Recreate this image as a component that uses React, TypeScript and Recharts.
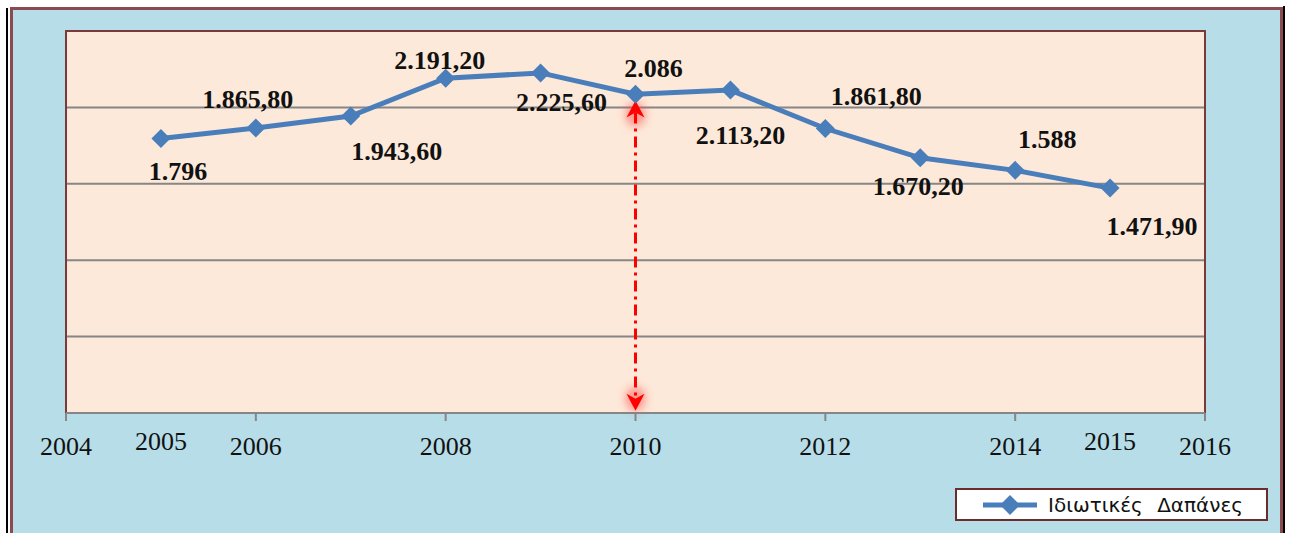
import React from "react";
import { LineChart, Line, XAxis, YAxis, CartesianGrid, ReferenceLine, ReferenceArea } from "recharts";

const years = [2005, 2006, 2007, 2008, 2009, 2010, 2011, 2012, 2013, 2014, 2015];
const values = [1796, 1865.8, 1943.6, 2191.2, 2225.6, 2086, 2113.2, 1861.8, 1670.2, 1588, 1471.9];
const valueLabels = ["1.796", "1.865,80", "1.943,60", "2.191,20", "2.225,60", "2.086", "2.113,20", "1.861,80", "1.670,20", "1.588", "1.471,90"];
const xTicks = [2004, 2005, 2006, 2008, 2010, 2012, 2014, 2015, 2016];
const yTicks = [0, 500, 1000, 1500, 2000, 2500];
const seriesName = "Ιδιωτικές Δαπάνες";
const arrowYear = 2010;
const arrowFrom = 2045;
const arrowTo = 15;

// label placement (style): offset of label centre from its point
const labelOffsets: [number, number][] = [
  [17, 33], [-8, -28], [46, 35], [-6, -18], [21, 30], [18, -26],
  [10, 45], [51, -32], [-2, 29], [32, -31], [42, 38],
];

const data = years.map((y, i) => ({ year: y, value: values[i], label: valueLabels[i] }));

const LINE = "#4A7EBB";
const GRID = "#868686";
const PEACH = "#FDE9D9";
const BLUE = "#B7DDE8";
const FRAME = "#8B4A50";

const Diamond = (props: any) => {
  const { cx, cy } = props;
  if (cx == null || cy == null) return null;
  const s = 9.5;
  return <polygon points={`${cx},${cy - s} ${cx + s},${cy} ${cx},${cy + s} ${cx - s},${cy}`} fill={LINE} />;
};

const ValueLabel = (props: any) => {
  const { x, y, index } = props;
  const [dx, dy] = labelOffsets[index] || [0, 0];
  return (
    <text
      x={x + dx}
      y={y + dy}
      textAnchor="middle"
      dominantBaseline="central"
      fontFamily="'Liberation Serif', 'Times New Roman', serif"
      fontWeight="bold"
      fontSize={26}
      fill="#111"
    >
      {valueLabels[index]}
    </text>
  );
};

const YearTick = (props: any) => {
  const { x, y, payload } = props;
  const v = payload.value;
  const odd = v % 2 === 1;
  return (
    <g>
      {!odd && <line x1={x} y1={y - 8} x2={x} y2={y} stroke={GRID} strokeWidth={2} />}
      <text
        x={x}
        y={y + (odd ? 20 : 25)}
        textAnchor="middle"
        dominantBaseline="central"
        fontFamily="'Liberation Serif', 'Times New Roman', serif"
        fontSize={26}
        fill="#111"
      >
        {v}
      </text>
    </g>
  );
};

const ArrowShape = (props: any) => {
  const { x1, y1, x2, y2 } = props;
  if (x1 == null) return null;
  const x = x1;
  const top = Math.min(y1, y2);
  const bot = Math.max(y1, y2);
  const h = 17;
  const w = 9;
  return (
    <g>
      <defs>
        <filter id="glow" x="-100%" y="-100%" width="300%" height="300%">
          <feGaussianBlur stdDeviation="4" />
        </filter>
      </defs>
      <ellipse cx={x} cy={top + 14} rx={10} ry={12} fill="#ff4040" opacity={0.5} filter="url(#glow)" />
      <ellipse cx={x} cy={bot - 12} rx={10} ry={12} fill="#ff4040" opacity={0.5} filter="url(#glow)" />
      <line x1={x} y1={top + 12} x2={x} y2={bot - 12} stroke="#FF0000" strokeWidth={3} strokeDasharray="11 5 3 5" />
      <polygon points={`${x},${top} ${x + w},${top + h} ${x},${top + h - 5} ${x - w},${top + h}`} fill="#FF0000" />
      <polygon points={`${x},${bot} ${x + w},${bot - h} ${x},${bot - h + 5} ${x - w},${bot - h}`} fill="#FF0000" />
    </g>
  );
};

export default function App() {
  return (
    <div style={{ position: "absolute", left: 0, top: 0, width: 1289, height: 533, background: "#fff", overflow: "hidden" }}>
      <div style={{ position: "absolute", left: 6, top: 8, width: 2, height: 540, background: "#000" }} />
      <div style={{ position: "absolute", left: 1283, top: 6, width: 2, height: 540, background: "#000" }} />
      <div
        style={{
          position: "absolute",
          left: 10,
          top: 7,
          width: 1267,
          height: 540,
          background: BLUE,
          border: `3px solid ${FRAME}`,
        }}
      />
      <div style={{ position: "absolute", left: 0, top: 0 }}>
        <LineChart width={1289} height={533} data={data} margin={{ top: 31, right: 84, bottom: 80, left: 66 }}>
          <CartesianGrid horizontal vertical={false} stroke={GRID} strokeWidth={2} fill={PEACH} fillOpacity={1} />
          <ReferenceArea x1={2004} x2={2016} y1={0} y2={2500} fill="none" stroke="#7A3A3A" strokeWidth={2} />
          <XAxis
            dataKey="year"
            type="number"
            domain={[2004, 2016]}
            ticks={xTicks}
            interval={0}
            tickLine={false}
            axisLine={{ stroke: GRID, strokeWidth: 2 }}
            tick={<YearTick />}
            height={40}
          />
          <YAxis type="number" domain={[0, 2500]} ticks={yTicks} hide />
          <Line
            type="linear"
            dataKey="value"
            name={seriesName}
            stroke={LINE}
            strokeWidth={5}
            dot={<Diamond />}
            activeDot={false}
            isAnimationActive={false}
            label={<ValueLabel />}
          />
          <ReferenceLine
            segment={[{ x: arrowYear, y: arrowFrom }, { x: arrowYear, y: arrowTo }]}
            stroke="#FF0000"
            shape={<ArrowShape />}
          />
        </LineChart>
      </div>
      <div
        style={{
          position: "absolute",
          left: 955,
          top: 488,
          width: 309,
          height: 29,
          background: "#fff",
          border: "2px solid #6B2C2C",
          display: "flex",
          alignItems: "center",
        }}
      >
        <svg width={60} height={29} style={{ marginLeft: 24 }}>
          <line x1={2} y1={15} x2={56} y2={15} stroke={LINE} strokeWidth={5} />
          <polygon points="29,5 39,15 29,25 19,15" fill={LINE} />
        </svg>
        <span style={{ fontFamily: "'DejaVu Sans', sans-serif", fontSize: 20, color: "#111", marginLeft: 7, wordSpacing: 8, whiteSpace: "nowrap" }}>
          {seriesName}
        </span>
      </div>
    </div>
  );
}
